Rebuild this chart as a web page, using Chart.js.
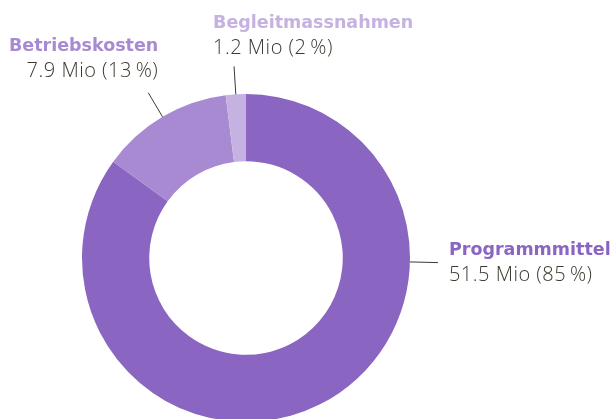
<!DOCTYPE html>
<html>
<head>
<meta charset="utf-8">
<script src="https://cdn.jsdelivr.net/npm/chart.js@4.4.1/dist/chart.umd.min.js"></script>
<style>
  html, body { margin: 0; padding: 0; background: #ffffff; overflow: hidden; }
  #wrap { position: absolute; left: 0; top: 0; width: 615px; height: 440px; }
</style>
</head>
<body>
<div id="wrap"><canvas id="costChart"></canvas></div>
<script>
// Budget split (Mio CHF)
const categories = ["Programmmittel", "Betriebskosten", "Begleitmassnahmen"];
const amounts = [51.5, 7.9, 1.2];
const shares = [85, 13, 2];
const sliceColors = ["#8a65c1", "#a78ad2", "#c6b2e1"];

const TITLE_FONT = "bold 17.5px 'DejaVu Sans', sans-serif";
const VALUE_FONT = "300 20px 'Open Sans', sans-serif";

// callouts: leader line + two text lines per slice
const calloutPlugin = {
  id: "callouts",
  afterDatasetsDraw(chart, args, opts) {
    const ctx = chart.ctx;
    const meta = chart.getDatasetMeta(0);
    meta.data.forEach((arc, i) => {
      const p = arc.getProps(["x", "y", "startAngle", "endAngle", "outerRadius"], true);
      const spec = opts.placement[i];
      const ang = spec.angle != null ? spec.angle : (p.startAngle + p.endAngle) / 2;
      const x0 = p.x + Math.cos(ang) * p.outerRadius;
      const y0 = p.y + Math.sin(ang) * p.outerRadius;
      const x1 = p.x + Math.cos(ang) * (p.outerRadius + opts.lineLength);
      const y1 = p.y + Math.sin(ang) * (p.outerRadius + opts.lineLength);

      ctx.save();
      ctx.strokeStyle = opts.lineColor;
      ctx.lineWidth = 1;
      ctx.beginPath();
      ctx.moveTo(x0, y0);
      ctx.lineTo(x1, y1);
      ctx.stroke();

      ctx.textAlign = spec.align;
      ctx.textBaseline = "alphabetic";
      const tx = x1 + spec.dx;
      ctx.fillStyle = sliceColors[i];
      ctx.font = TITLE_FONT;
      ctx.fillText(categories[i], tx, y1 + spec.dy - opts.lineGap);
      ctx.fillStyle = opts.textColor;
      ctx.font = VALUE_FONT;
      ctx.letterSpacing = "0.5px";
      ctx.fillText(amounts[i].toFixed(1) + " Mio (" + shares[i] + "\u2009%)", tx, y1 + spec.dy);
      ctx.restore();
    });
  }
};

new Chart(document.getElementById("costChart"), {
  type: "doughnut",
  data: {
    labels: categories,
    datasets: [{
      data: amounts,
      backgroundColor: sliceColors,
      borderWidth: 0
    }]
  },
  options: {
    responsive: true,
    maintainAspectRatio: false,
    animation: false,
    cutout: "59%",
    layout: { padding: { top: 94, bottom: 18, left: 82, right: 205 } },
    plugins: {
      legend: { display: false },
      tooltip: { enabled: false },
      callouts: {
        lineLength: 28,
        lineGap: 26,
        lineColor: "#3b3a30",
        textColor: "#3b3a30",
        placement: [
          { angle: 0.024, align: "left", dx: 11, dy: 18 },
          { align: "right", dx: 10, dy: -16 },
          { align: "left", dx: -21, dy: -12 }
        ]
      }
    }
  },
  plugins: [calloutPlugin]
});
</script>
</body>
</html>
